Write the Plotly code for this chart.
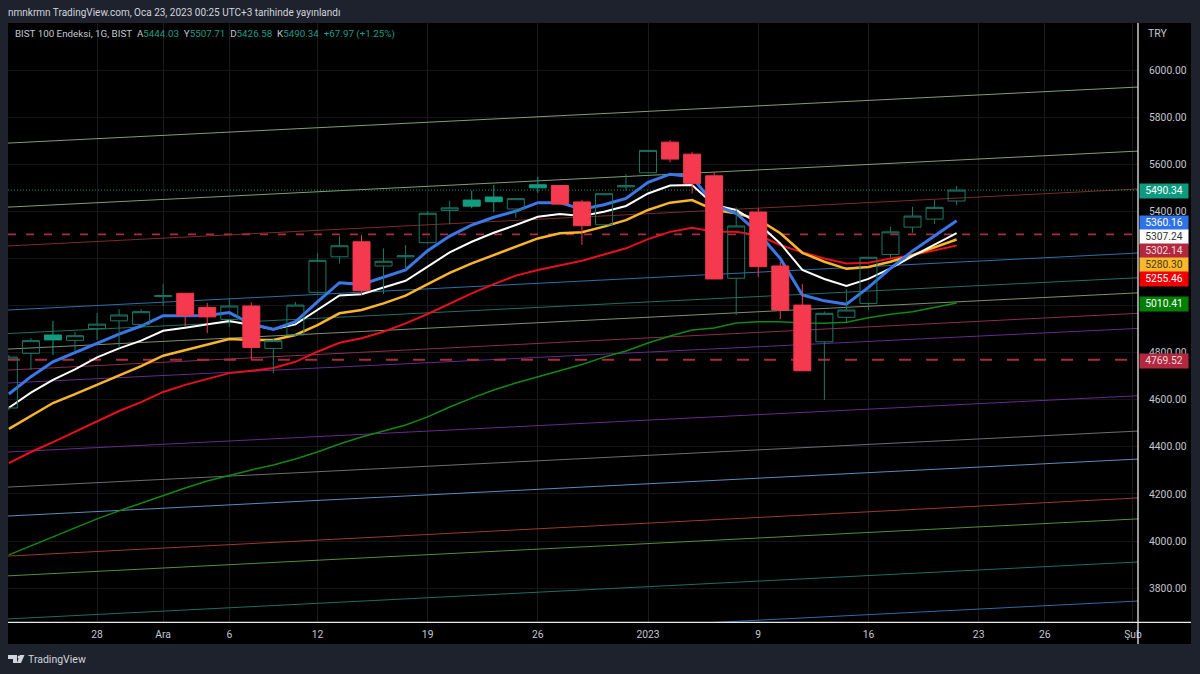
import plotly.graph_objects as go

# ---- data -------------------------------------------------------------
first_bar = -4
opens  = [4565,4797,4854,4852,4902,4935,4920,5038,5052,4992,4941,4998,4818,4875,5056,5207,5271,5168,5207,5267,5404,5422,5441,5410,5500,5510,5440,5343,5504,5564,5694,5643,5551,5116,5397,5168,5002,4846,4950,5009,5217,5333,5367,5444.03]
highs  = [4790,4862,4935,4888,4968,4985,4985,5091,5052,5011,5032,5014,4862,5015,5223,5296,5299,5243,5257,5401,5444,5488,5512,5454,5547,5510,5448,5475,5558,5659,5703,5651,5568,5417,5413,5186,5091,4975,5069,5205,5335,5420,5448,5507.71]
lows   = [4555,4726,4790,4807,4854,4820,4915,4998,4910,4883,4910,4772,4713,4870,5050,5179,5045,5049,5151,5262,5345,5413,5396,5373,5479,5431,5257,5343,5487,5564,5608,5476,5113,4960,5122,4943,4723,4599,4925,4981,5202,5309,5346,5426.58]
closes = [4781,4851,4875,4872,4921,4960,4974,5042,4958,4952,4998,4822,4851,5002,5192,5254,5063,5188,5211,5392,5415,5448,5461,5454,5513,5431,5339,5475,5509,5659,5622,5519,5113,5338,5165,4981,4723,4967,4981,5205,5313,5380,5417,5490.34]
filled_up_bars = [-2, 17, 18, 20]

ma_blue   = [4624,4698,4761,4800,4837,4879,4913,4957,4957,4958,4970,4921,4899,4931,5016,5097,5090,5120,5151,5233,5295,5342,5375,5401,5437,5437,5409,5428,5455,5523,5558,5547,5427,5392,5308,5200,5045,5020,5006,5077,5158,5232,5296,5360.16]
ma_white  = [4566,4630,4684,4729,4780,4818,4851,4893,4906,4920,4934,4917,4899,4920,4981,5043,5048,5077,5105,5165,5226,5271,5309,5342,5377,5389,5380,5398,5423,5476,5510,5512,5427,5406,5349,5264,5151,5113,5083,5113,5158,5210,5257,5307.24]
ma_orange = [4476,4531,4586,4624,4663,4705,4743,4787,4811,4832,4858,4854,4854,4875,4917,4967,4981,5009,5042,5091,5139,5179,5214,5247,5285,5307,5311,5335,5363,5406,5437,5448,5406,5392,5366,5307,5224,5186,5156,5164,5186,5214,5247,5280.30]
ma_red    = [4331,4378,4420,4465,4510,4552,4590,4633,4663,4688,4713,4723,4735,4761,4804,4842,4861,4889,4924,4964,5009,5052,5091,5127,5151,5172,5190,5217,5243,5282,5313,5330,5313,5313,5299,5257,5226,5200,5179,5182,5200,5214,5236,5255.46]
ma_green  = [3941,3979,4017,4055,4094,4128,4161,4195,4225,4255,4280,4302,4323,4348,4378,4412,4442,4467,4493,4527,4569,4607,4641,4671,4698,4726,4750,4781,4807,4841,4871,4896,4905,4926,4931,4931,4926,4925,4929,4948,4963,4974,4992,5010.41]

trend_left  = [5690,5418,5253,4981,4881,4815,4726,4671,4378,4229,4106,3936,3852,3669,3503]
trend_right = [5928,5656,5495,5223,5118,5054,4967,4903,4617,4467,4348,4183,4094,3911,3745]
trend_colors = ["#7f9e79","#7f9e79","#7d2b2b","#2c70a6","#1f7060","#7f8f70","#8c2c52","#662a8c","#662a8c","#6a6e70","#5a8cba","#a0382e","#50903f","#1c6e60","#2a6aaa"]

xtick_bars = [0,3,6,10,15,20,25,30,35,40,43,47]
xtick_text = ["28","Ara","6","12","19","26","2023","9","16","23","26","Şub"]
# 5000 and 5200 sit fully behind the price tags in the reference, so their labels stay blank
ytick_vals = [3800,4000,4200,4400,4600,4800,5000,5200,5400,5600,5800,6000]
ytick_text = ["3800.00","4000.00","4200.00","4400.00","4600.00","4800.00","","","5400.00","5600.00","5800.00","6000.00"]

last_price = 5490.34
alert_hi = 5302.14
alert_lo = 4769.52

price_tags = [5490.34,5360.16,5307.24,5302.14,5280.30,5255.46,5010.41,4769.52]
tag_bg     = ["#0c9a80","#2f72e8","#ffffff","#b2283f","#f9b82d","#f00000","#008000","#b2283f"]
tag_fg     = ["#ffffff","#ffffff","#333333","#f0d8dc","#4a3a10","#ffffff","#ffffff","#f0d8dc"]
tag_px     = [190.5,222.5,236.5,250.5,264.5,278.5,304,360.5]

change = 67.97
change_pct = 1.25

# ---- layout helpers ---------------------------------------------------
W, H = 1200, 674
L, R, T, B = 8, 1138, 23, 622
xr = [-4.04, 47.23]
yr = [3656, 6200]
PANEL = "#1e222d"
px = lambda x: (x - L) / (R - L)
py = lambda y: (B - y) / (B - T)
bars = list(range(first_bar, first_bar + len(closes)))

fig = go.Figure()

# trend lines
for a, b, c in zip(trend_left, trend_right, trend_colors):
    fig.add_trace(go.Scatter(x=xr, y=[a, b], mode="lines", line=dict(color=c, width=1), hoverinfo="skip"))

# horizontal levels
fig.add_trace(go.Scatter(x=xr, y=[last_price]*2, mode="lines", line=dict(color="#1c8c76", width=1, dash="1px,2px"), hoverinfo="skip"))
fig.add_trace(go.Scatter(x=xr, y=[alert_hi]*2, mode="lines", line=dict(color="#a82c42", width=1.6, dash="8px,10px"), hoverinfo="skip"))
fig.add_trace(go.Scatter(x=xr, y=[alert_lo]*2, mode="lines", line=dict(color="#a82c42", width=2, dash="12px,15px"), hoverinfo="skip"))

# moving averages
for vals, c, w in [(ma_green, "#128a12", 1.5), (ma_red, "#e8101c", 2), (ma_orange, "#f9b52d", 2.5),
                   (ma_white, "#ffffff", 2), (ma_blue, "#3a78e8", 3)]:
    fig.add_trace(go.Scatter(x=bars, y=vals, mode="lines", line=dict(color=c, width=w), hoverinfo="skip"))

# candles, on an overlay axis so that they sit above the averages.
# Each trace keeps the full x list (blanks for other bars) so all bodies get the same width.
def pick(cond):
    keep = [cond(i) for i in range(len(bars))]
    f = lambda a: [v if k else None for v, k in zip(a, keep)]
    return dict(x=bars, open=f(opens), high=f(highs), low=f(lows), close=f(closes))

UP, DOWN = "#1c7866", "#f5394e"
fig.add_trace(go.Candlestick(**pick(lambda i: closes[i] >= opens[i] and bars[i] not in filled_up_bars),
    xaxis="x2", yaxis="y2", whiskerwidth=0,
    increasing=dict(line=dict(color=UP, width=1), fillcolor="rgba(0,0,0,0)")))
fig.add_trace(go.Candlestick(**pick(lambda i: closes[i] >= opens[i] and bars[i] in filled_up_bars),
    xaxis="x2", yaxis="y2", whiskerwidth=0,
    increasing=dict(line=dict(color="#129c80", width=1), fillcolor="#129c80")))
fig.add_trace(go.Candlestick(**pick(lambda i: closes[i] < opens[i]),
    xaxis="x2", yaxis="y2", whiskerwidth=0,
    decreasing=dict(line=dict(color=DOWN, width=1), fillcolor=DOWN)))

# frame
shapes = [
    dict(type="rect", xref="paper", yref="paper", x0=px(8), x1=px(1191), y0=py(644), y1=py(23),
         fillcolor="#000000", line_width=0, layer="below"),
    dict(type="line", xref="paper", yref="paper", x0=px(1138), x1=px(1138), y0=py(644), y1=py(23),
         line=dict(color="#e8e8e8", width=1.3)),
    dict(type="line", xref="paper", yref="paper", x0=px(8), x1=px(1191), y0=py(622.3), y1=py(622.3),
         line=dict(color="#e8e8e8", width=1.3)),
    # TradingView logo
    dict(type="path", xref="paper", yref="paper",
         path=f"M{px(8)},{py(655)} L{px(17)},{py(655)} L{px(17)},{py(663)} L{px(13)},{py(663)} L{px(13)},{py(659)} L{px(8)},{py(659)} Z",
         fillcolor="#d1d4dc", line_width=0),
    dict(type="path", xref="paper", yref="paper",
         path=f"M{px(20)},{py(655)} L{px(24.5)},{py(655)} L{px(21)},{py(663)} L{px(16.8)},{py(663)} Z",
         fillcolor="#d1d4dc", line_width=0),
    dict(type="circle", xref="paper", yref="paper", x0=px(17.6), x1=px(20.4), y0=py(658.6), y1=py(655.6),
         fillcolor="#d1d4dc", line_width=0),
]

FONT = "Roboto"
anns = [
    dict(xref="paper", yref="paper", x=px(6), y=py(12), xanchor="left", yanchor="middle", showarrow=False,
         text="nmnkrmn TradingView.com, Oca 23, 2023 00:25 UTC+3 tarihinde yayınlandı",
         font=dict(family=FONT, size=10, color="#d1d4dc")),
    dict(xref="paper", yref="paper", x=px(26), y=py(659.5), xanchor="left", yanchor="middle", showarrow=False,
         text="TradingView", font=dict(family=FONT, size=10.5, color="#d1d4dc")),
    dict(xref="paper", yref="paper", x=px(1146), y=py(33), xanchor="left", yanchor="middle", showarrow=False,
         text="TRY", font=dict(family=FONT, size=10.5, color="#c4c7cf")),
]
G = "#1f9c84"
ohlc = (f"<span style='color:{G}'>{opens[-1]:.2f}</span>", f"<span style='color:{G}'>{highs[-1]:.2f}</span>",
        f"<span style='color:{G}'>{lows[-1]:.2f}</span>", f"<span style='color:{G}'>{closes[-1]:.2f}</span>")
anns.append(dict(xref="paper", yref="paper", x=px(12.5), y=py(34), xanchor="left", yanchor="middle", showarrow=False,
    text=(f"BIST 100 Endeksi, 1G, BIST&nbsp;&nbsp;A{ohlc[0]}&nbsp;&nbsp;Y{ohlc[1]}&nbsp;&nbsp;D{ohlc[2]}&nbsp;&nbsp;K{ohlc[3]}"
          f"&nbsp;&nbsp;<span style='color:{G}'>+{change:.2f} (+{change_pct:.2f}%)</span>"),
    font=dict(family=FONT, size=9.8, color="#c4c7cf")))
for v, bg, fg, yp in zip(price_tags, tag_bg, tag_fg, tag_px):
    anns.append(dict(xref="paper", yref="paper", x=px(1138.6), y=py(yp), xanchor="left", yanchor="middle",
        showarrow=False, text=f"{v:.2f}", width=48, height=13.5, bgcolor=bg, borderpad=0, align="center",
        font=dict(family=FONT, size=10.3, color=fg)))

axis_font = dict(family=FONT, size=10.3, color="#c4c7cf")
fig.update_layout(
    autosize=False, width=W, height=H, showlegend=False, hovermode=False, boxgap=0.23, boxgroupgap=0,
    margin=dict(l=L, r=W-R, t=T, b=H-B, pad=0),
    paper_bgcolor=PANEL, plot_bgcolor="#000000",
    shapes=shapes, annotations=anns,
    xaxis=dict(range=xr, tickmode="array", tickvals=xtick_bars, ticktext=xtick_text, showgrid=True,
               gridcolor="#1a1b1f", gridwidth=1, zeroline=False, showline=False, ticks="outside", ticklen=3,
               tickcolor="rgba(0,0,0,0)", tickfont=axis_font, rangeslider=dict(visible=False), fixedrange=True),
    yaxis=dict(range=yr, side="right", tickmode="array", tickvals=ytick_vals, ticktext=ytick_text, showgrid=True,
               gridcolor="#141518", gridwidth=1, zeroline=False, showline=False, ticks="outside", ticklen=8,
               tickcolor="rgba(0,0,0,0)", tickfont=axis_font, fixedrange=True),
    xaxis2=dict(range=xr, overlaying="x", visible=False, rangeslider=dict(visible=False), fixedrange=True),
    yaxis2=dict(range=yr, overlaying="y", visible=False, fixedrange=True),
)

fig.write_html("out.html", config=dict(displayModeBar=False),
               post_script="document.body.style.margin='0';document.body.style.overflow='hidden';")
